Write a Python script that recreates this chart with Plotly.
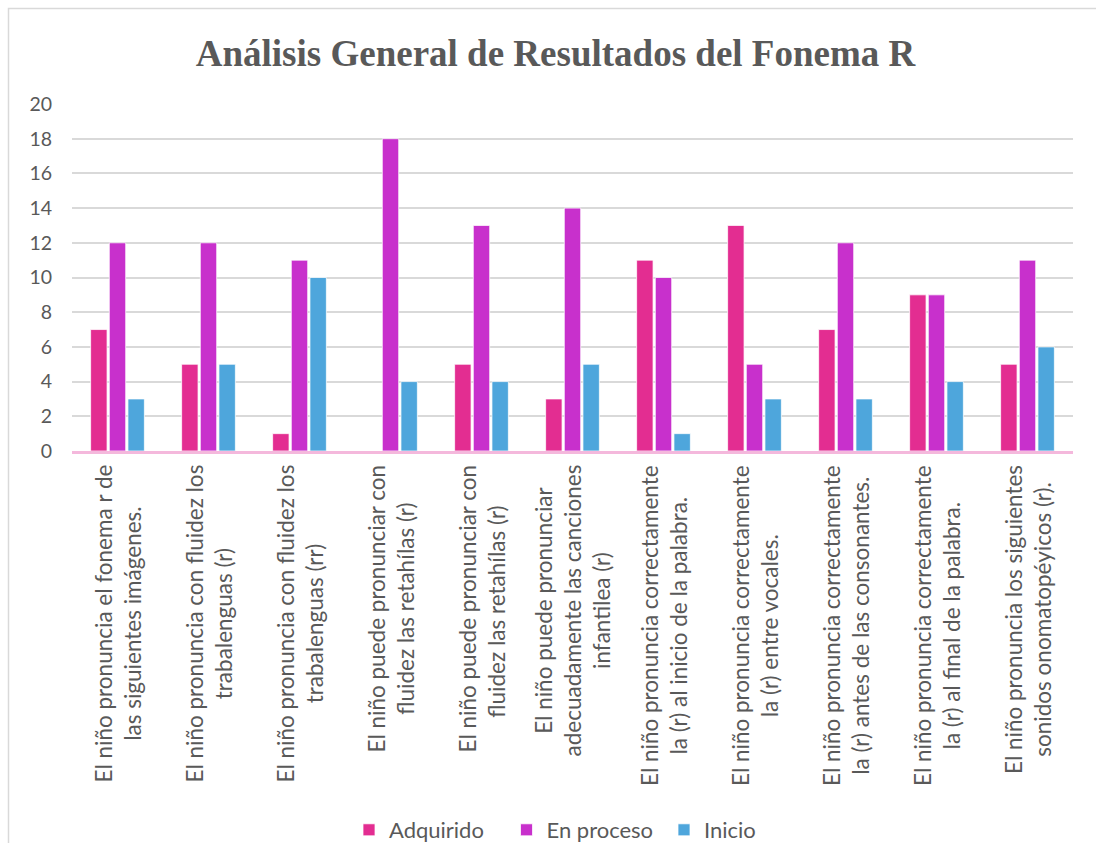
import plotly.graph_objects as go

categories = [
    "El niño pronuncia el fonema r de<br>las siguientes imágenes.",
    "El niño pronuncia con fluidez los<br>trabalenguas (r)",
    "El niño pronuncia con fluidez los<br>trabalenguas (rr)",
    "El niño puede pronunciar con<br>fluidez las retahílas (r)",
    "El niño puede pronunciar con<br>fluidez las retahílas (r) ",
    "El niño puede pronunciar<br>adecuadamente las canciones<br>infantilea (r)",
    "El niño pronuncia correctamente<br>la (r) al inicio de la palabra.",
    "El niño pronuncia correctamente<br>la (r) entre vocales.",
    "El niño pronuncia correctamente<br>la (r) antes de las consonantes.",
    "El niño pronuncia correctamente<br>la (r) al final de la palabra.",
    "El niño pronuncia los siguientes<br>sonidos onomatopéyicos (r).",
]
adquirido = [7, 5, 1, 0, 5, 3, 11, 13, 7, 9, 5]
en_proceso = [12, 12, 11, 18, 13, 14, 10, 5, 12, 9, 11]
inicio = [3, 5, 10, 4, 4, 5, 1, 3, 3, 4, 6]
y_ticks = list(range(0, 21, 2))

series = [
    ("Adquirido", adquirido, "#E32D91"),
    ("En proceso", en_proceso, "#C830CC"),
    ("Inicio", inicio, "#4EA6DC"),
]

W, H = 1096, 843
ML, MR, MT, MB = 72, 23, 104, 392
PW, PH = W - ML - MR, H - MT - MB

fig = go.Figure()
for name, vals, col in series:
    fig.add_trace(go.Bar(
        x=categories, y=vals, name=name,
        marker=dict(color=col, line=dict(color="white", width=0.75)),
    ))

gray = "#595959"
sans = "Lato, Carlito, 'Noto Sans', sans-serif"
label_font = dict(family=sans, size=22.5, color=gray)

for c in categories:
    fig.add_annotation(
        x=c, xref="x", y=-12 / PH, yref="paper",
        text=c, textangle=-90, showarrow=False,
        xanchor="center", yanchor="top", align="center",
        font=label_font,
    )

def px_to_paper_x(px):
    return (px - ML) / PW

def px_to_paper_y(py):
    return (H - MB - py) / PH

fig.add_shape(
    type="rect", xref="paper", yref="paper",
    x0=px_to_paper_x(8.5), x1=px_to_paper_x(1110),
    y0=px_to_paper_y(860), y1=px_to_paper_y(8.5),
    line=dict(color="#D9D9D9", width=1.5), layer="below",
)

fig.update_layout(
    width=W, height=H,
    margin=dict(l=ML, r=MR, t=MT, b=MB, autoexpand=False),
    paper_bgcolor="white", plot_bgcolor="white",
    barmode="group", bargap=0.385, bargroupgap=0.12,
    title=dict(
        text="<b>Análisis General de Resultados del Fonema R</b>",
        x=555.5 / W, xanchor="center", xref="container",
        y=1 - 53 / H, yanchor="middle",
        font=dict(family="'Liberation Serif', 'Times New Roman', serif", size=37, color=gray),
    ),
    xaxis=dict(
        showticklabels=False, showgrid=False, ticks="",
        showline=True, linecolor="#F4B8DC", linewidth=2.5,
        zeroline=False,
    ),
    yaxis=dict(
        range=[0, 20], tickvals=y_ticks, showgrid=True,
        gridcolor="#D9D9D9", gridwidth=1.5, zeroline=False,
        ticks="", tickfont=dict(family=sans, size=19.5, color=gray),
        ticklabelstandoff=19, showline=False,
    ),
    legend=dict(
        orientation="h", x=px_to_paper_x(585.5), xanchor="center",
        y=px_to_paper_y(830), yanchor="middle",
        font=dict(family=sans, size=22, color=gray),
        itemwidth=30, traceorder="normal",
        entrywidth=112.5, entrywidthmode="pixels",
    ),
    showlegend=True,
)

fig.write_html("out.html", post_script="document.body.style.margin='0';",
               config={"displayModeBar": False})
